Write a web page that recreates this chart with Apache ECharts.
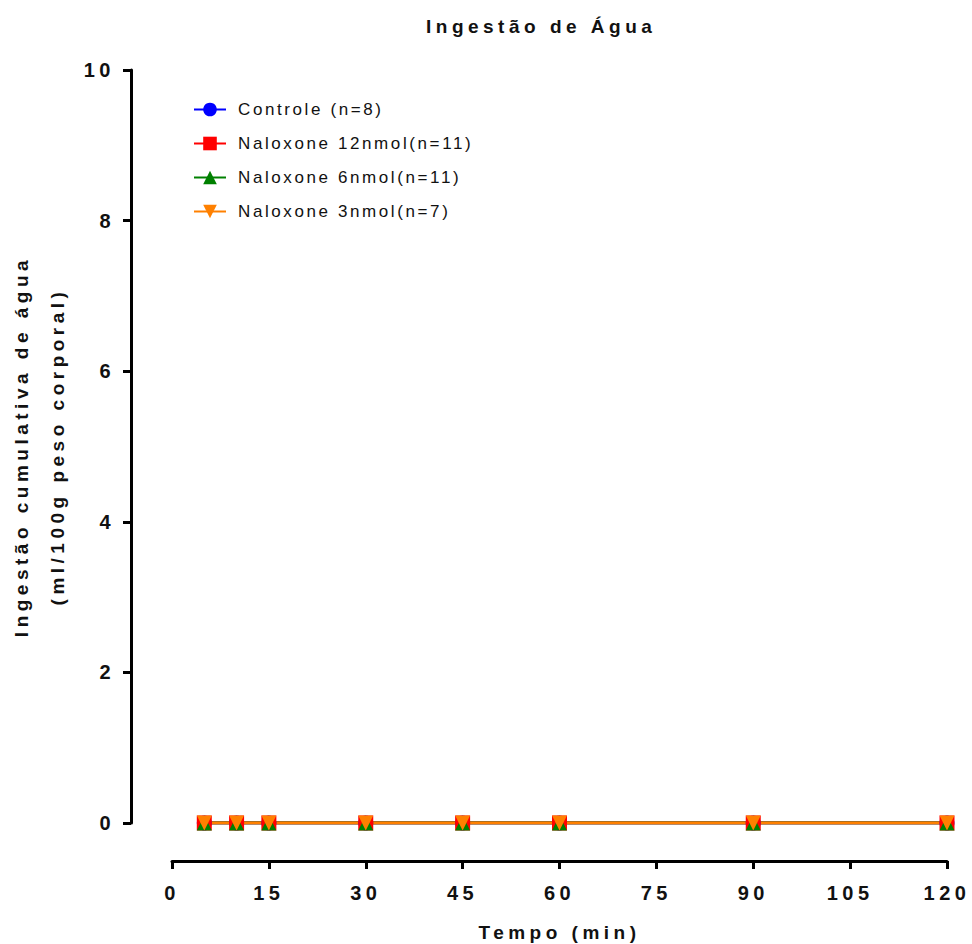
<!DOCTYPE html>
<html>
<head>
<meta charset="utf-8">
<script src="https://cdn.jsdelivr.net/npm/echarts@6/dist/echarts.min.js"></script>
<style>
  html, body { margin: 0; padding: 0; background: #fff; }
  #chart { width: 972px; height: 944px; }
</style>
</head>
<body>
<div id="chart"></div>
<script>
// time points (min)
const tempos = [5, 10, 15, 30, 45, 60, 90, 120];

// cumulative water intake per group (ml/100g)
const controle = [0, 0, 0, 0, 0, 0, 0, 0];
const nalox12 = [0, 0, 0, 0, 0, 0, 0, 0];
const nalox6 = [0, 0, 0, 0, 0, 0, 0, 0];
const nalox3 = [0, 0, 0, 0, 0, 0, 0, 0];

const groupNames = ['Controle (n=8)', 'Naloxone 12nmol(n=11)', 'Naloxone 6nmol(n=11)', 'Naloxone 3nmol(n=7)'];

const pair = (vals) => tempos.map((t, i) => [t, vals[i]]);

const FONT = 'Liberation Sans, Arial, sans-serif';

const mkSeries = (name, vals, color, symbol, rotate) => ({
  name: name,
  type: 'line',
  data: pair(vals),
  symbol: symbol,
  symbolSize: 15,
  symbolRotate: rotate,
  showSymbol: true,
  lineStyle: { color: color, width: 3 },
  itemStyle: { color: color },
  emphasis: { disabled: true }
});

let chartDom = document.getElementById('chart');
let myChart = echarts.init(chartDom, null, { renderer: 'svg' });

let option = {
  animation: false,
  backgroundColor: '#fff',
  title: {
    text: 'Ingestão de Água',
    left: 421,
    top: 12,
    textStyle: { fontFamily: FONT, fontWeight: 'bold', fontSize: 19, color: '#111' }
  },
  legend: {
    orient: 'vertical',
    left: 188,
    top: 96,
    itemWidth: 32,
    itemHeight: 17,
    itemGap: 17,
    data: groupNames,
    textStyle: { fontFamily: FONT, fontSize: 17, color: '#111', padding: [0, 0, 0, 7] }
  },
  grid: { left: 172, right: 25, top: 70, bottom: 121, outerBoundsMode: 'none' },
  xAxis: {
    type: 'value',
    min: 0,
    max: 120,
    interval: 15,
    offset: 38,
    name: 'Tempo (min)',
    nameLocation: 'middle',
    nameGap: 62,
    nameTextStyle: { fontFamily: FONT, fontWeight: 'bold', fontSize: 19, color: '#111' },
    axisLine: { show: true, onZero: false, lineStyle: { color: '#000', width: 3 } },
    axisTick: { show: true, inside: false, length: 8, lineStyle: { color: '#000', width: 3 } },
    axisLabel: { margin: 22, fontFamily: FONT, fontWeight: 'bold', fontSize: 20, color: '#111' },
    splitLine: { show: false }
  },
  yAxis: {
    type: 'value',
    min: 0,
    max: 10,
    interval: 2,
    offset: 41,
    name: 'Ingestão cumulativa de água\n(ml/100g peso corporal)',
    nameLocation: 'middle',
    nameRotate: 90,
    nameGap: 56,
    nameTextStyle: { fontFamily: FONT, fontWeight: 'bold', fontSize: 19, lineHeight: 36, color: '#111' },
    axisLine: { show: true, onZero: false, lineStyle: { color: '#000', width: 3 } },
    axisTick: { show: true, inside: false, length: 8, lineStyle: { color: '#000', width: 3 } },
    axisLabel: { margin: 16, fontFamily: FONT, fontWeight: 'bold', fontSize: 20, color: '#111' },
    splitLine: { show: false }
  },
  series: [
    mkSeries(groupNames[0], controle, '#0000ff', 'circle', 0),
    mkSeries(groupNames[1], nalox12, '#ff0000', 'rect', 0),
    mkSeries(groupNames[2], nalox6, '#008000', 'triangle', 0),
    mkSeries(groupNames[3], nalox3, '#ff8000', 'triangle', 180)
  ]
};

myChart.setOption(option);

// Prism-like wide letter spacing on the svg text
chartDom.querySelectorAll('text').forEach((t) => {
  let bold = /bold/.test(t.getAttribute('style') || '');
  t.style.letterSpacing = bold ? '4.5px' : '2.6px';
});
</script>
</body>
</html>
